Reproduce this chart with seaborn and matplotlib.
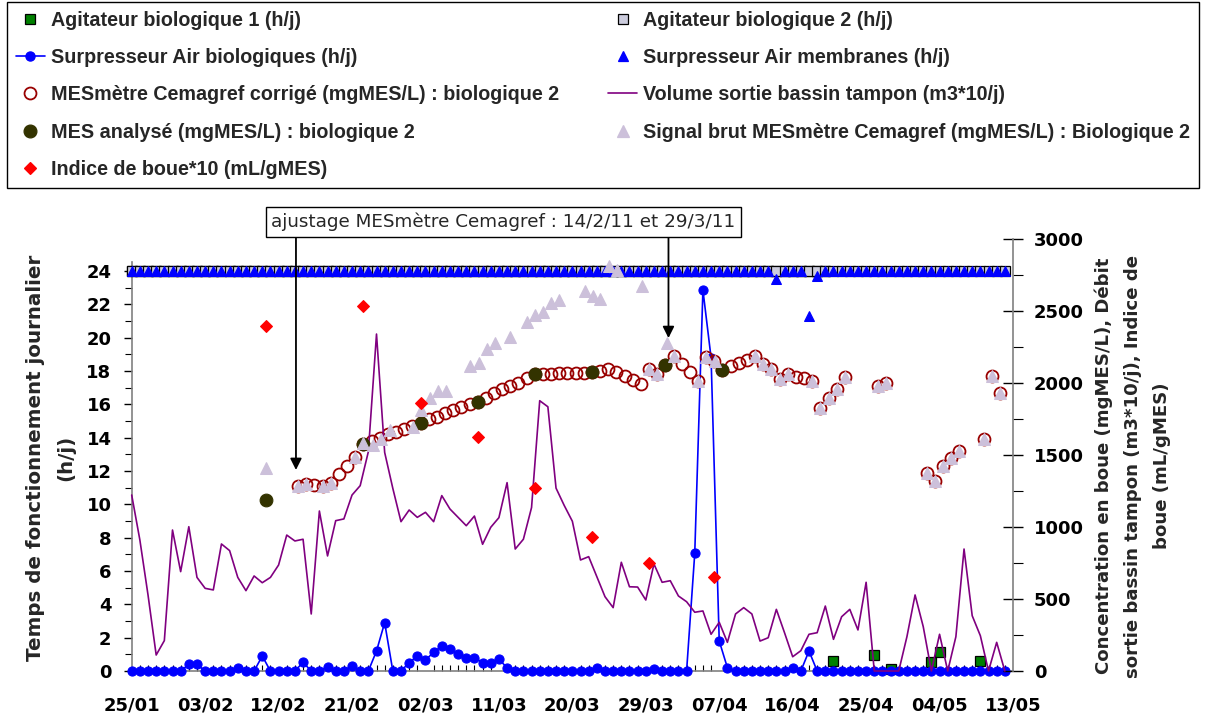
import numpy as np
import pandas as pd
import matplotlib
matplotlib.use("Agg")
import matplotlib.pyplot as plt
import matplotlib.dates as mdates
from matplotlib.lines import Line2D
from matplotlib.ticker import FixedLocator
from matplotlib.font_manager import FontProperties
import seaborn as sns

# ---------------------------------------------------------------- data ----
START = pd.Timestamp("2011-01-25")
N_DAYS = 108
nan = np.nan

# daily operating times (h/j), one value per day from 25/01
agitateur_1 = [
    24, 24, 24, 24, 24, 24, 24, 24, 24, 24, 24, 24, 24, 24, 24, 24, 24, 24,
    24, 24, 24, 24, 24, 24, 24, 24, 24, 24, 24, 24, 24, 24, 24, 24, 24, 24,
    24, 24, 24, 24, 24, 24, 24, 24, 24, 24, 24, 24, 24, 24, 24, 24, 24, 24,
    24, 24, 24, 24, 24, 24, 24, 24, 24, 24, 24, 24, 24, 24, 24, 24, 24, 24,
    24, 24, 24, 24, 24, 24, 24, 24, 24, 24, 24, 24, 24, 24, 0.62, nan, nan, nan,
    nan, 0.98, nan, 0.14, nan, nan, nan, nan, 0.52, 1.12, nan, nan, nan, nan, 0.62, nan, nan, nan,
]
agitateur_2 = [
    24, 24, 24, 24, 24, 24, 24, 24, 24, 24, 24, 24, 24, 24, 24, 24, 24, 24,
    24, 24, 24, 24, 24, 24, 24, 24, 24, 24, 24, 24, 24, 24, 24, 24, 24, 24,
    24, 24, 24, 24, 24, 24, 24, 24, 24, 24, 24, 24, 24, 24, 24, 24, 24, 24,
    24, 24, 24, 24, 24, 24, 24, 24, 24, 24, 24, 24, 24, 24, 24, 24, 24, 24,
    24, 24, 24, 24, 24, 24, 24, 24, 24, 24, 24, 24, 24, 24, 24, 24, 24, 24,
    24, 24, 24, 24, 24, 24, 24, 24, 24, 24, 24, 24, 24, 24, 24, 24, 24, 24,
]
surpresseur_bio = [
    0, 0, 0, 0, 0, 0, 0, 0.4, 0.4, 0,
    0, 0, 0, 0.16, 0, 0, 0.9, 0, 0, 0,
    0, 0.52, 0, 0, 0.26, 0, 0, 0.32, 0, 0,
    1.2, 2.9, 0, 0, 0.5, 0.9, 0.66, 1.12, 1.5, 1.3,
    1.0, 0.8, 0.8, 0.5, 0.5, 0.7, 0.2, 0, 0, 0,
    0, 0, 0, 0, 0, 0, 0, 0.2, 0, 0,
    0, 0, 0, 0, 0.1, 0, 0, 0, 0, 7.06,
    22.86, 18.8, 1.8, 0.2, 0, 0, 0, 0, 0, 0,
    0, 0.2, 0, 1.2, 0, 0, 0, 0, 0, 0,
    0, 0, 0, 0, 0, 0, 0, 0, 0, 0,
    0, 0, 0, 0, 0, 0, 0, 0,
]
surpresseur_membranes = [
    24, 24, 24, 24, 24, 24, 24, 24, 24, 24, 24, 24, 24, 24, 24, 24, 24, 24,
    24, 24, 24, 24, 24, 24, 24, 24, 24, 24, 24, 24, 24, 24, 24, 24, 24, 24,
    24, 24, 24, 24, 24, 24, 24, 24, 24, 24, 24, 24, 24, 24, 24, 24, 24, 24,
    24, 24, 24, 24, 24, 24, 24, 24, 24, 24, 24, 24, 24, 24, 24, 24, 24, 24,
    24, 24, 24, 24, 24, 24, 24, 23.5, 24, 24, 24, 21.3, 23.7, 24, 24, 24, 24, 24,
    24, 24, 24, 24, 24, 24, 24, 24, 24, 24, 24, 24, 24, 24, 24, 24, 24, 24,
]
# outflow of the buffer tank (m3*10/j), daily
volume_tampon = [
    1222, 910, 528, 111, 211, 979, 690, 1002, 650, 574,
    563, 882, 836, 650, 558, 660, 613, 650, 736, 944,
    903, 915, 396, 1111, 799, 1044, 1056, 1222, 1287, 1523,
    2340, 1518, 1268, 1037, 1118, 1067, 1102, 1037, 1218, 1125,
    1067, 1009, 1076, 880, 998, 1065, 1308, 847, 915, 1135,
    1877, 1835, 1270, 1150, 1040, 771, 794, 655, 516, 440,
    755, 585, 583, 493, 743, 616, 627, 521, 481, 408,
    417, 255, 338, 199, 396, 440, 396, 208, 231, 428,
    266, 99, 141, 255, 266, 451, 220, 377, 428, 285,
    616, 0, 0, 0, 0, 238, 528, 308, 0, 255,
    0, 238, 847, 384, 245, 0, 199, 0,
]

# corrected MES probe (mgMES/L), days after 25/01
mes_corr_jours = [
    20.4, 21.4, 22.4, 23.4, 24.4, 25.4, 26.4, 27.4, 28.4, 29.4, 30.4, 31.4,
    32.4, 33.4, 34.4, 35.4, 36.4, 37.4, 38.4, 39.4, 40.4, 41.4, 42.4, 43.4,
    44.4, 45.4, 46.4, 47.4, 48.4, 49.4, 50.4, 51.4, 52.4, 53.4, 54.4, 55.4,
    56.4, 57.4, 58.4, 59.4, 60.4, 61.4, 62.4, 63.4, 64.4, 65.4, 66.4, 67.4,
    68.4, 69.4, 70.4, 71.4, 72.4, 73.4, 74.4, 75.4, 76.4, 77.4, 78.4, 79.4,
    80.4, 81.4, 82.4, 83.4, 84.4, 85.4, 86.4, 87.4, 91.4, 92.4, 97.4, 98.4,
    99.4, 100.4, 101.4, 104.4, 105.4, 106.4,
]
mes_corr = [
    1285, 1299, 1289, 1285, 1303, 1366, 1426, 1488, 1576, 1599, 1616, 1646,
    1662, 1681, 1701, 1724, 1748, 1766, 1794, 1812, 1831, 1854, 1870, 1894,
    1928, 1956, 1979, 2002, 2032, 2062, 2062, 2062, 2067, 2067, 2072, 2072,
    2079, 2083, 2097, 2079, 2049, 2021, 1993, 2100, 2064, 2127, 2190, 2132,
    2075, 2016, 2180, 2154, 2090, 2116, 2140, 2160, 2185, 2131, 2095, 2026,
    2061, 2044, 2032, 2016, 1829, 1894, 1956, 2040, 1977, 2000, 1377, 1319,
    1424, 1481, 1530, 1609, 2049, 1928,
]

# raw MES probe signal (mgMES/L)
signal_brut_jours = [
    16.4, 20.4, 21.4, 23.4, 24.4, 27.4, 28.4, 29.6, 30.6, 31.6, 34.5, 35.5,
    36.5, 37.5, 38.5, 41.5, 42.5, 43.5, 44.5, 46.4, 48.4, 49.4, 50.4, 51.4,
    52.4, 55.5, 56.5, 57.4, 58.5, 59.5, 62.5, 63.4, 64.4, 65.6, 66.4, 69.4,
    70.4, 71.5, 76.4, 77.4, 78.4, 79.4, 80.4, 83.4, 84.4, 85.4, 86.4, 87.4,
    91.4, 92.4, 97.4, 98.4, 99.4, 100.4, 101.4, 104.4, 105.4, 106.4,
]
signal_brut = [
    1408, 1285, 1299, 1285, 1303, 1488, 1585, 1569, 1609, 1674, 1697, 1812,
    1894, 1947, 1947, 2118, 2137, 2236, 2276, 2320, 2424, 2474, 2495, 2557,
    2576, 2639, 2606, 2581, 2812, 2785, 2674, 2100, 2064, 2280, 2190, 2016,
    2180, 2154, 2185, 2131, 2095, 2026, 2061, 2016, 1829, 1894, 1956, 2040,
    1977, 2000, 1377, 1319, 1424, 1481, 1530, 1609, 2049, 1928,
]

# laboratory MES and sludge index
mes_analyse_jours = [16.4, 28.4, 35.4, 42.4, 49.4, 56.4, 65.4, 72.4]
mes_analyse = [1187, 1576, 1720, 1870, 2062, 2079, 2127, 2090]
indice_boue_jours = [16.4, 28.4, 35.4, 42.4, 49.4, 56.4, 63.4, 71.4]
indice_boue = [2398, 2535, 1859, 1627, 1269, 933, 752, 655]

# probe adjustments pointed at by the note
ajustage_jours = [20.13, 65.78]
ajustage_niveaux = [1396, 2312]

x_tick_labels = ["25/01", "03/02", "12/02", "21/02", "02/03", "11/03", "20/03",
                 "29/03", "07/04", "16/04", "25/04", "04/05", "13/05"]

# ------------------------------------------------------------- helpers ----
def to_dates(days):
    return START + pd.to_timedelta(np.asarray(days, dtype=float), unit="D")

daily = to_dates(np.arange(N_DAYS))

C_GREEN = "#008000"
C_GREY = "#CCCCDD"
C_BLUE = "#0000FF"
C_DARKRED = "#990000"
C_PURPLE = "#800080"
C_OLIVE = "#333300"
C_LAVENDER = "#CCC0DA"
C_RED = "#FF0000"

sns.set_style("white")
plt.rcParams["font.family"] = ["DejaVu Sans"]

W, H = 1207, 722
fig = plt.figure(figsize=(W / 100, H / 100), dpi=100)
ax = fig.add_axes([131.7 / W, (H - 671) / H, (1013 - 131.7) / W, (671 - 239) / H])
ax2 = ax.twinx()

# ---------------------------------------------------- primary (h/j) -------
sns.lineplot(x=daily, y=agitateur_1, ax=ax, linestyle="", marker="s",
             markersize=7.2, markerfacecolor=C_GREEN, markeredgecolor="black",
             markeredgewidth=0.9, legend=False, zorder=3, clip_on=False)
sns.lineplot(x=daily, y=agitateur_2, ax=ax, linestyle="", marker="s",
             markersize=7.2, markerfacecolor=C_GREY, markeredgecolor="black",
             markeredgewidth=0.9, legend=False, zorder=3.1, clip_on=False)
sns.lineplot(x=daily, y=surpresseur_bio, ax=ax, color=C_BLUE, linewidth=1.2,
             marker="o", markersize=6.6, markerfacecolor=C_BLUE,
             markeredgecolor=C_BLUE, legend=False, zorder=3.2, clip_on=False)
sns.lineplot(x=daily, y=surpresseur_membranes, ax=ax, linestyle="", marker="^",
             markersize=7.6, markerfacecolor=C_BLUE, markeredgecolor=C_BLUE,
             legend=False, zorder=3.3, clip_on=False)

# ------------------------------------------------- secondary (mg/L) -------
sns.lineplot(x=to_dates(mes_corr_jours), y=mes_corr, ax=ax2, linestyle="",
             marker="o", markersize=8.6, markerfacecolor="none",
             markeredgecolor=C_DARKRED, markeredgewidth=1.3, legend=False, zorder=2)
sns.lineplot(x=daily, y=volume_tampon, ax=ax2, color=C_PURPLE, linewidth=1.2,
             legend=False, zorder=2.1, clip_on=False)
sns.lineplot(x=to_dates(mes_analyse_jours), y=mes_analyse, ax=ax2, linestyle="",
             marker="o", markersize=9.2, markerfacecolor=C_OLIVE,
             markeredgecolor=C_OLIVE, legend=False, zorder=2.2)
sns.lineplot(x=to_dates(signal_brut_jours), y=signal_brut, ax=ax2, linestyle="",
             marker="^", markersize=8.0, markerfacecolor=C_LAVENDER,
             markeredgecolor=C_LAVENDER, legend=False, zorder=2.3)
sns.lineplot(x=to_dates(indice_boue_jours), y=indice_boue, ax=ax2, linestyle="",
             marker="D", markersize=6.3, markerfacecolor=C_RED,
             markeredgecolor=C_RED, legend=False, zorder=2.4)

# ------------------------------------------------------------- axes -------
x0, x1 = to_dates([0, N_DAYS])
ax.set_xlim(x0, x1)
ax.set_ylim(0, 25.92)
ax2.set_ylim(0, 3000)

tick_font = dict(fontsize=13, fontweight="bold", color="black")
major_x = to_dates(np.arange(0, N_DAYS + 1, 9))
ax.xaxis.set_major_locator(FixedLocator(mdates.date2num(major_x)))
ax.xaxis.set_minor_locator(FixedLocator(mdates.date2num(to_dates(np.arange(N_DAYS + 1)))))
ax.set_xticklabels(x_tick_labels, **tick_font)
ax.tick_params(axis="x", which="major", direction="out", length=7, width=1,
               color="black", pad=11.5)
ax.tick_params(axis="x", which="minor", direction="in", length=4.5, width=0.8,
               color="black", bottom=True)

ax.yaxis.set_major_locator(FixedLocator(list(range(0, 25, 2))))
ax.yaxis.set_minor_locator(FixedLocator(list(range(1, 25, 2))))
ax.set_yticklabels([str(v) for v in range(0, 25, 2)], **tick_font)
ax.tick_params(axis="y", which="major", direction="out", length=6, width=1,
               color="black", pad=8.5, left=True)
ax.tick_params(axis="y", which="minor", direction="out", length=5, width=0.8,
               color="black", left=True)

ax2.yaxis.set_major_locator(FixedLocator(list(range(0, 3001, 500))))
ax2.yaxis.set_minor_locator(FixedLocator(list(range(250, 3000, 500))))
ax2.set_yticklabels([str(v) for v in range(0, 3001, 500)], **tick_font)
ax2.tick_params(axis="y", which="major", direction="inout", length=14, width=1,
                color="black", pad=8, right=True)
ax2.tick_params(axis="y", which="minor", direction="out", length=7, width=0.8,
                color="black", right=True)

for a in (ax, ax2):
    a.set_xlabel("")
    a.set_ylabel("")
    a.grid(False)
ax.spines["top"].set_visible(False)
ax.spines["right"].set_visible(False)
ax.spines["left"].set_bounds(0, 24.55)
for s in ("top", "left", "bottom"):
    ax2.spines[s].set_visible(False)
for sp in (ax.spines["left"], ax.spines["bottom"], ax2.spines["right"]):
    sp.set_color("#808080")
    sp.set_linewidth(1.2)

# ------------------------------------------------------- axis titles ------
fig.text(50.5 / W, 1 - 458 / H, "Temps de fonctionnement journalier\n(h/j)",
         rotation=90, ha="center", va="center", fontsize=14.3,
         fontweight="bold", linespacing=1.72)
fig.text(1133 / W, 1 - 466 / H,
         "Concentration en boue (mgMES/L), Débit\n"
         "sortie bassin tampon (m3*10/j), Indice de\nboue (mL/gMES)",
         rotation=90, ha="center", va="center", fontsize=13.1,
         fontweight="bold", linespacing=1.8)

# ------------------------------------------------------- annotation -------
fig.text(503.5 / W, 1 - 222 / H,
         "ajustage MESmètre Cemagref : 14/2/11 et 29/3/11",
         ha="center", va="center", fontsize=13.2,
         bbox=dict(boxstyle="square,pad=0.3", fc="white", ec="black", lw=1))
for jour, niveau in zip(ajustage_jours, ajustage_niveaux):
    tip = to_dates([jour])[0]
    x_pix = ax2.transData.transform((mdates.date2num(tip), niveau))[0]
    ax2.annotate("", xy=(tip, niveau), xytext=(x_pix, H - 237),
                 textcoords="figure pixels",
                 arrowprops=dict(arrowstyle="-|>", color="black", lw=1.3,
                                 mutation_scale=17, shrinkA=0, shrinkB=0),
                 annotation_clip=False)

# ----------------------------------------------------------- legend -------
def mk(marker, fc, ec, ms, ls="", lw=1.2, color=None, mew=0.9):
    return Line2D([], [], linestyle=ls, linewidth=lw, color=color or ec,
                  marker=marker, markersize=ms, markerfacecolor=fc,
                  markeredgecolor=ec, markeredgewidth=mew)

handles = [
    mk("s", C_GREEN, "black", 7.2),
    mk("o", C_BLUE, C_BLUE, 6.6, ls="-", color=C_BLUE),
    mk("o", "none", C_DARKRED, 8.6, mew=1.3),
    mk("o", C_OLIVE, C_OLIVE, 9.2),
    mk("D", C_RED, C_RED, 6.3),
    mk("s", C_GREY, "black", 7.2),
    mk("^", C_BLUE, C_BLUE, 7.6),
    mk(None, "none", C_PURPLE, 0, ls="-", color=C_PURPLE),
    mk("^", C_LAVENDER, C_LAVENDER, 8.0),
]
labels = [
    "Agitateur biologique 1 (h/j)",
    "Surpresseur Air biologiques (h/j)",
    "MESmètre Cemagref corrigé (mgMES/L) : biologique 2",
    "MES analysé (mgMES/L) : biologique 2",
    "Indice de boue*10 (mL/gMES)",
    "Agitateur biologique 2 (h/j)",
    "Surpresseur Air membranes (h/j)",
    "Volume sortie bassin tampon (m3*10/j)",
    "Signal brut MESmètre Cemagref (mgMES/L) : Biologique 2",
]
leg = fig.legend(handles, labels, loc="upper left", ncol=2, mode="expand",
                 bbox_to_anchor=(7 / W, 1 - 187 / H, 1192 / W, 185 / H),
                 borderaxespad=0, frameon=True, fancybox=False,
                 edgecolor="black", framealpha=1, handlelength=1.45,
                 handletextpad=0.3, labelspacing=0.92, borderpad=0.46,
                 prop=FontProperties(family="Liberation Sans", weight="bold",
                                     size=14.2))
leg.get_frame().set_linewidth(1.0)

fig.savefig("out.png", dpi=100, facecolor="white")
